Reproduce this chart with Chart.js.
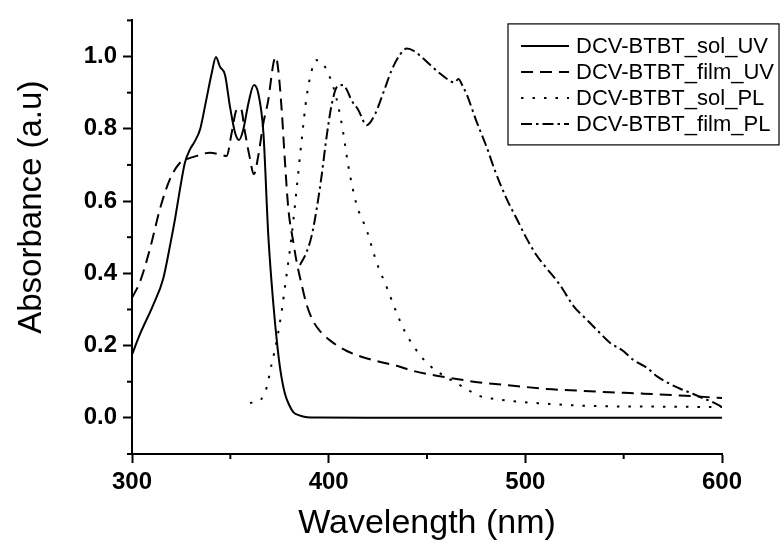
<!DOCTYPE html>
<html><head><meta charset="utf-8">
<script src="https://cdn.jsdelivr.net/npm/chart.js@4.4.1/dist/chart.umd.min.js"></script>
<style>html,body{margin:0;padding:0;background:#fff;}</style>
</head><body>
<canvas id="c" width="780" height="547"></canvas>
<script>
// ---- data ----
const seriesLabels = ['DCV-BTBT_sol_UV', 'DCV-BTBT_film_UV', 'DCV-BTBT_sol_PL', 'DCV-BTBT_film_PL'];

const solUvX = [300,304,310.8,315.9,319.7,321.9,324.4,326.9,329.5,332,334.6,337.1,340.5,342.7,344.7,347.3,349.8,352.4,354.4,356.6,359.2,362,364.2,366.8,369.3,371.9,373.9,375.5,377.8,380,382,385,389,395,420,500,600];
const solUvY = [0.175,0.231,0.313,0.386,0.487,0.551,0.633,0.706,0.743,0.766,0.798,0.862,0.953,0.999,0.972,0.949,0.862,0.789,0.769,0.798,0.871,0.921,0.898,0.79,0.505,0.313,0.2,0.13,0.066,0.035,0.016,0.007,0.002,0.001,0,0,0];

const filmUvX = [300,304.1,309.2,314.2,319.3,324.4,326.9,332.9,339.7,344.7,348.1,350.7,353.2,355.3,357.5,359.7,362,364.2,366.8,369.3,371.9,373.1,374.4,376.1,377.8,379.5,382,383.7,386.3,388.8,392.2,395.6,401,409.2,421,434.6,443,451.5,460,476.9,493.8,510.8,527.8,543,560,578.6,600];
const filmUvY = [0.332,0.377,0.469,0.578,0.661,0.706,0.714,0.725,0.734,0.729,0.725,0.789,0.853,0.857,0.789,0.725,0.674,0.725,0.816,0.88,0.981,0.999,0.962,0.853,0.707,0.578,0.487,0.432,0.368,0.313,0.267,0.24,0.213,0.185,0.162,0.144,0.13,0.12,0.112,0.098,0.089,0.08,0.075,0.071,0.067,0.062,0.055];

const solPlX = [360,363,365.9,368.5,371,373.6,376.1,378.6,381.2,383.7,386.3,388.8,391.4,393.5,396.4,399.8,402.3,404.9,407.4,410,414.2,419.3,424.4,429.5,434.6,438.8,443,446.4,451.5,460,468.5,476.9,485,493.8,510.8,527.8,543,570,600];
const solPlY = [0.041,0.045,0.053,0.085,0.149,0.213,0.295,0.396,0.505,0.633,0.77,0.889,0.962,0.99,0.985,0.953,0.917,0.862,0.789,0.697,0.59,0.52,0.43,0.362,0.29,0.238,0.2,0.174,0.144,0.112,0.085,0.06,0.052,0.046,0.039,0.034,0.032,0.031,0.03];

const filmPlX = [385.4,388.8,391.4,393.9,396.4,399,401.5,404.5,407.4,409.5,411.5,415,419.3,423.5,427.8,432,436.2,439.7,443.5,448,452,456.6,461,464,466,468,470.2,475.2,480.3,484.5,490.5,495.6,500.7,505.7,510.8,517.6,524.4,531.2,537.9,543,549.8,555,561.7,567,573.5,579,585.4,590,595.6,600];
const filmPlY = [0.423,0.459,0.505,0.578,0.67,0.78,0.866,0.918,0.921,0.905,0.88,0.853,0.81,0.84,0.9,0.962,1.005,1.022,1.015,0.995,0.975,0.953,0.935,0.928,0.938,0.92,0.895,0.82,0.75,0.685,0.606,0.551,0.496,0.45,0.414,0.368,0.31,0.272,0.235,0.208,0.185,0.16,0.139,0.115,0.094,0.08,0.066,0.055,0.043,0.03];

const xLabeledTicks = [300, 400, 500, 600];
const yLabeledTicks = ['0.0', '0.2', '0.4', '0.6', '0.8', '1.0'];
const yTitleText = 'Absorbance (a.u)';
const xTitleText = 'Wavelength (nm)';

// ---- helpers ----
const FONT = '"Liberation Sans", Arial, Helvetica, sans-serif';
const zip = (xs, ys) => xs.slice(0, Math.min(xs.length, ys.length)).map((x, i) => ({ x: x, y: ys[i] }));
const tenth = v => Math.round(v * 10);

const makeSet = (label, xs, ys, dash) => ({
  label: label, data: zip(xs, ys),
  borderColor: '#000', borderWidth: 2, borderDash: dash,
  pointRadius: 0, fill: false, cubicInterpolationMode: 'monotone'
});

const minorTicks = {
  id: 'minorTicks',
  afterDraw(chart) {
    const { ctx } = chart; const x = chart.scales.x, y = chart.scales.y;
    ctx.save(); ctx.strokeStyle = '#000'; ctx.lineWidth = 2; ctx.setLineDash([]);
    x.ticks.forEach(t => {
      if (!xLabeledTicks.includes(t.value)) {
        const px = x.getPixelForValue(t.value);
        ctx.beginPath(); ctx.moveTo(px, x.top); ctx.lineTo(px, x.top + 5); ctx.stroke();
      }
    });
    y.ticks.forEach(t => {
      if (tenth(t.value) % 2 !== 0) {
        const py = y.getPixelForValue(t.value);
        ctx.beginPath(); ctx.moveTo(y.right, py); ctx.lineTo(y.right - 5, py); ctx.stroke();
      }
    });
    ctx.restore();
  }
};

// y-axis title, placed a little above the axis middle as in the reference
const yTitle = {
  id: 'yTitle',
  afterDraw(chart) {
    const ctx = chart.ctx, y = chart.scales.y;
    const cy = (y.top + y.bottom) / 2 - 30;
    ctx.save();
    ctx.translate(y.left + 32, cy);
    ctx.rotate(-Math.PI / 2);
    ctx.fillStyle = '#000'; ctx.font = '33px ' + FONT;
    ctx.textAlign = 'center'; ctx.textBaseline = 'middle';
    ctx.fillText(yTitleText, 0, 0);
    ctx.restore();
  }
};

const boxLegend = {
  id: 'boxLegend',
  afterDraw(chart) {
    const ctx = chart.ctx, area = chart.chartArea;
    const left = area.right - 214, top = area.top + 3.5, right = chart.width - 1;
    const rowH = 26, n = chart.data.datasets.length;
    const bottom = top + 22 + rowH * (n - 1) + 21;
    ctx.save();
    ctx.setLineDash([]); ctx.strokeStyle = '#000'; ctx.lineWidth = 1.2;
    ctx.strokeRect(left, top, right - left, bottom - top);
    chart.data.datasets.forEach((ds, i) => {
      const cy = top + 22 + i * rowH;
      ctx.setLineDash(ds.borderDash || []); ctx.lineWidth = ds.borderWidth; ctx.strokeStyle = ds.borderColor;
      ctx.beginPath(); ctx.moveTo(left + 13, cy); ctx.lineTo(left + 61, cy); ctx.stroke();
      ctx.setLineDash([]);
      ctx.fillStyle = '#000'; ctx.font = '22px ' + FONT; ctx.textBaseline = 'middle'; ctx.textAlign = 'left';
      ctx.fillText(ds.label, left + 68, cy + 1);
    });
    ctx.restore();
  }
};

new Chart(document.getElementById('c'), {
  type: 'line',
  data: {
    datasets: [
      makeSet(seriesLabels[0], solUvX, solUvY, []),
      makeSet(seriesLabels[1], filmUvX, filmUvY, [12, 7]),
      makeSet(seriesLabels[2], solPlX, solPlY, [2.5, 9]),
      makeSet(seriesLabels[3], filmPlX, filmPlY, [11, 4, 2.5, 4])
    ]
  },
  options: {
    responsive: false, animation: false, devicePixelRatio: 1,
    layout: { padding: { left: 0, top: 16.5, right: 58, bottom: 0 } },
    plugins: { legend: { display: false }, tooltip: { enabled: false } },
    scales: {
      x: {
        type: 'linear', min: 300, max: 600,
        afterFit: s => { s.height = 93; },
        ticks: {
          stepSize: 50, autoSkip: false, maxRotation: 0, padding: 5, color: '#000',
          font: { family: FONT, size: 24, weight: 'bold' },
          callback: v => xLabeledTicks.includes(v) ? String(v) : ''
        },
        grid: {
          drawOnChartArea: false, drawTicks: true, tickLength: 9, tickWidth: 2,
          tickColor: c => (c.tick && xLabeledTicks.includes(c.tick.value)) ? '#000' : 'rgba(0,0,0,0)'
        },
        border: { display: true, color: '#000', width: 2 },
        title: { display: true, text: xTitleText, color: '#000', font: { family: FONT, size: 34 }, padding: { top: 0, bottom: 3 } }
      },
      y: {
        type: 'linear', min: -0.1, max: 1.1,
        afterFit: s => { s.width = 132; },
        ticks: {
          stepSize: 0.1, autoSkip: false, padding: 6, color: '#000',
          font: { family: FONT, size: 24, weight: 'bold' },
          callback: v => { const k = tenth(v); const s = (k / 10).toFixed(1); return yLabeledTicks.includes(s) && k % 2 === 0 ? s : ''; }
        },
        grid: {
          drawOnChartArea: false, drawTicks: true, tickLength: 9, tickWidth: 2,
          tickColor: c => (c.tick && tenth(c.tick.value) % 2 === 0) ? '#000' : 'rgba(0,0,0,0)'
        },
        border: { display: true, color: '#000', width: 2 },
        title: { display: false, text: yTitleText }
      }
    }
  },
  plugins: [minorTicks, yTitle, boxLegend]
});
</script>
</body></html>
